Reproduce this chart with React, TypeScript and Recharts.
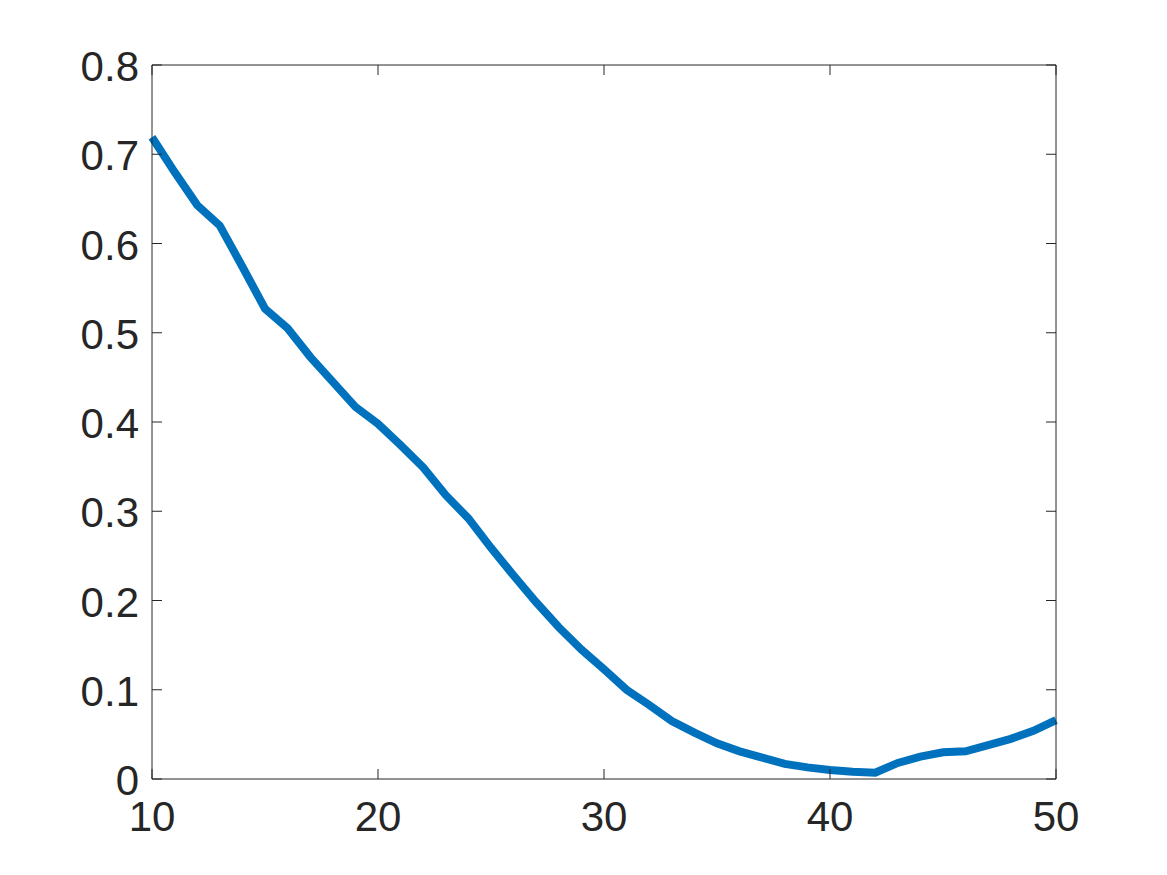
import { LineChart, Line, XAxis, YAxis } from 'recharts';

const xValues = [
    10, 11, 12, 13, 14, 15, 16, 17, 18, 19,
    20, 21, 22, 23, 24, 25, 26, 27, 28, 29,
    30, 31, 32, 33, 34, 35, 36, 37, 38, 39,
    40, 41, 42, 43, 44, 45, 46, 47, 48, 49, 50,
];
const yValues = [
    0.719, 0.680, 0.643, 0.620, 0.574, 0.527, 0.505, 0.473, 0.445, 0.417,
    0.398, 0.374, 0.349, 0.318, 0.292, 0.259, 0.228, 0.198, 0.170, 0.145,
    0.123, 0.100, 0.083, 0.065, 0.052, 0.040, 0.031, 0.024, 0.017, 0.013,
    0.010, 0.008, 0.007, 0.018, 0.025, 0.030, 0.031, 0.038, 0.045, 0.054, 0.066,
];
const xTicks = [10, 20, 30, 40, 50];
const yTicks = [0, 0.1, 0.2, 0.3, 0.4, 0.5, 0.6, 0.7, 0.8];

const data = xValues.map((x, i) => ({ x, y: yValues[i] }));

const AXIS = '#262626';
const FONT = '"Liberation Sans", Arial, Helvetica, sans-serif';
const FONT_SIZE = 42;
const TICK_LEN = 10;

// bottom axis: label below, tick pointing up into the box
const BottomTick = (props: any) => {
    const { x, y, payload } = props;
    return (
        <g>
            <line x1={x} y1={y} x2={x} y2={y - TICK_LEN} stroke={AXIS} strokeWidth={1} />
            <text x={x} y={y} dy={52} textAnchor="middle" fill={AXIS} fontSize={FONT_SIZE} fontFamily={FONT}>
                {payload.value}
            </text>
        </g>
    );
};

const TopTick = (props: any) => {
    const { x, y } = props;
    return <line x1={x} y1={y} x2={x} y2={y + TICK_LEN} stroke={AXIS} strokeWidth={1} />;
};

const LeftTick = (props: any) => {
    const { x, y, payload } = props;
    return (
        <g>
            <line x1={x} y1={y} x2={x + TICK_LEN} y2={y} stroke={AXIS} strokeWidth={1} />
            <text x={x - 13} y={y} dy={16} textAnchor="end" fill={AXIS} fontSize={FONT_SIZE} fontFamily={FONT}>
                {payload.value}
            </text>
        </g>
    );
};

const RightTick = (props: any) => {
    const { x, y } = props;
    return <line x1={x} y1={y} x2={x - TICK_LEN} y2={y} stroke={AXIS} strokeWidth={1} />;
};

export default function App() {
    return (
        <div style={{ position: 'absolute', left: 0, top: 0, width: 1167, height: 875, background: '#fff' }}>
            <LineChart width={1167} height={875} data={data} margin={{ top: 64, right: 110, left: 52, bottom: 36 }}>
                <XAxis
                    xAxisId="bottom"
                    dataKey="x"
                    type="number"
                    domain={[10, 50]}
                    ticks={xTicks}
                    height={60}
                    tickSize={0}
                    tickMargin={0}
                    tickLine={false}
                    axisLine={{ stroke: AXIS, strokeWidth: 1 }}
                    tick={<BottomTick />}
                    interval={0}
                />
                <XAxis
                    xAxisId="top"
                    orientation="top"
                    dataKey="x"
                    type="number"
                    domain={[10, 50]}
                    ticks={xTicks}
                    height={1}
                    tickSize={0}
                    tickMargin={0}
                    tickLine={false}
                    axisLine={{ stroke: AXIS, strokeWidth: 1 }}
                    tick={<TopTick />}
                    interval={0}
                />
                <YAxis
                    yAxisId="left"
                    type="number"
                    domain={[0, 0.8]}
                    ticks={yTicks}
                    width={100}
                    tickSize={0}
                    tickMargin={0}
                    tickLine={false}
                    axisLine={{ stroke: AXIS, strokeWidth: 1 }}
                    tick={<LeftTick />}
                    interval={0}
                />
                <YAxis
                    yAxisId="right"
                    orientation="right"
                    type="number"
                    domain={[0, 0.8]}
                    ticks={yTicks}
                    width={1}
                    tickSize={0}
                    tickMargin={0}
                    tickLine={false}
                    axisLine={{ stroke: AXIS, strokeWidth: 1 }}
                    tick={<RightTick />}
                    interval={0}
                />
                {/* invisible series so the top/right frame axes get drawn */}
                <Line
                    xAxisId="top"
                    yAxisId="right"
                    type="linear"
                    dataKey="y"
                    stroke="none"
                    dot={false}
                    activeDot={false}
                    isAnimationActive={false}
                />
                <Line
                    xAxisId="bottom"
                    yAxisId="left"
                    type="linear"
                    dataKey="y"
                    stroke="#0072BD"
                    strokeWidth={8}
                    dot={false}
                    activeDot={false}
                    isAnimationActive={false}
                />
            </LineChart>
        </div>
    );
}
